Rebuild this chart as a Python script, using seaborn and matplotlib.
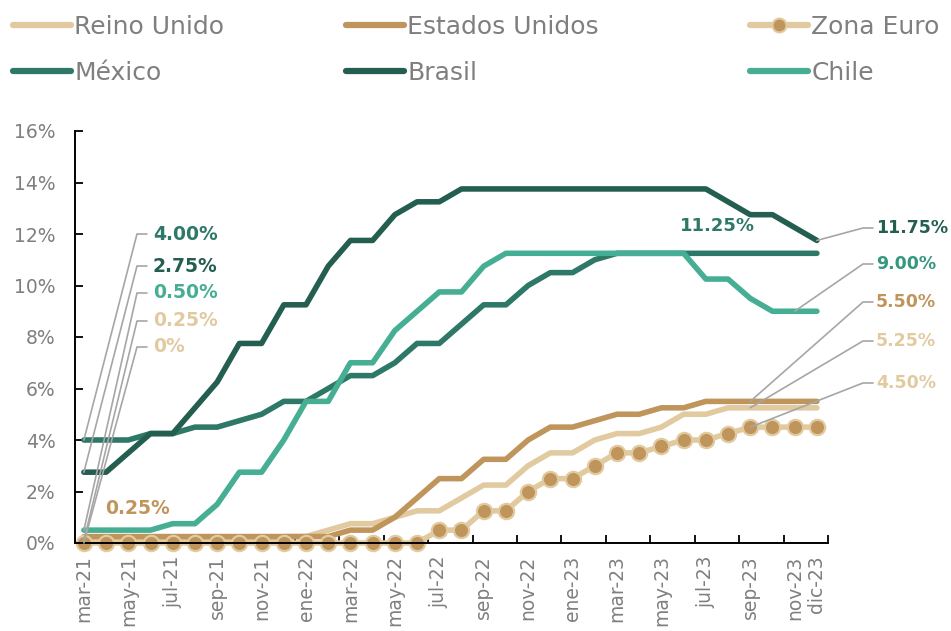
import numpy as np
import pandas as pd
import seaborn as sns
import matplotlib.pyplot as plt
from matplotlib.lines import Line2D

# meses mar-21 .. dic-23
meses = ["mar-21", "abr-21", "may-21", "jun-21", "jul-21", "ago-21", "sep-21", "oct-21",
         "nov-21", "dic-21", "ene-22", "feb-22", "mar-22", "abr-22", "may-22", "jun-22",
         "jul-22", "ago-22", "sep-22", "oct-22", "nov-22", "dic-22", "ene-23", "feb-23",
         "mar-23", "abr-23", "may-23", "jun-23", "jul-23", "ago-23", "sep-23", "oct-23",
         "nov-23", "dic-23"]

reino_unido = [0.10, 0.10, 0.10, 0.10, 0.10, 0.10, 0.10, 0.10, 0.10, 0.25, 0.25, 0.50,
               0.75, 0.75, 1.00, 1.25, 1.25, 1.75, 2.25, 2.25, 3.00, 3.50, 3.50, 4.00,
               4.25, 4.25, 4.50, 5.00, 5.00, 5.25, 5.25, 5.25, 5.25, 5.25]
estados_unidos = [0.25, 0.25, 0.25, 0.25, 0.25, 0.25, 0.25, 0.25, 0.25, 0.25, 0.25, 0.25,
                  0.50, 0.50, 1.00, 1.75, 2.50, 2.50, 3.25, 3.25, 4.00, 4.50, 4.50, 4.75,
                  5.00, 5.00, 5.25, 5.25, 5.50, 5.50, 5.50, 5.50, 5.50, 5.50]
zona_euro = [0, 0, 0, 0, 0, 0, 0, 0, 0, 0, 0, 0, 0, 0, 0, 0,
             0.50, 0.50, 1.25, 1.25, 2.00, 2.50, 2.50, 3.00, 3.50, 3.50, 3.75, 4.00,
             4.00, 4.25, 4.50, 4.50, 4.50, 4.50]
mexico = [4.00, 4.00, 4.00, 4.25, 4.25, 4.50, 4.50, 4.75, 5.00, 5.50, 5.50, 6.00,
          6.50, 6.50, 7.00, 7.75, 7.75, 8.50, 9.25, 9.25, 10.00, 10.50, 10.50, 11.00,
          11.25, 11.25, 11.25, 11.25, 11.25, 11.25, 11.25, 11.25, 11.25, 11.25]
brasil = [2.75, 2.75, 3.50, 4.25, 4.25, 5.25, 6.25, 7.75, 7.75, 9.25, 9.25, 10.75,
          11.75, 11.75, 12.75, 13.25, 13.25, 13.75, 13.75, 13.75, 13.75, 13.75, 13.75, 13.75,
          13.75, 13.75, 13.75, 13.75, 13.75, 13.25, 12.75, 12.75, 12.25, 11.75]
chile = [0.50, 0.50, 0.50, 0.50, 0.75, 0.75, 1.50, 2.75, 2.75, 4.00, 5.50, 5.50,
         7.00, 7.00, 8.25, 9.00, 9.75, 9.75, 10.75, 11.25, 11.25, 11.25, 11.25, 11.25,
         11.25, 11.25, 11.25, 11.25, 10.25, 10.25, 9.50, 9.00, 9.00, 9.00]

series = {"Reino Unido": reino_unido, "Estados Unidos": estados_unidos, "Zona Euro": zona_euro,
          "México": mexico, "Brasil": brasil, "Chile": chile}
colores = {"Reino Unido": "#E2CAA0", "Estados Unidos": "#BF955C", "Zona Euro": "#E2CAA0",
           "México": "#2E7867", "Brasil": "#245E51", "Chile": "#46AE93"}
CAFE = "#BF955C"
GRIS = "#7F7F7F"
GUIA = "#A6A6A6"

df = pd.concat([pd.DataFrame({"i": np.arange(len(meses)), "mes": meses, "pais": k, "tasa": v})
                for k, v in series.items()], ignore_index=True)

sns.set_style("ticks")
plt.rcParams["font.family"] = ["DejaVu Sans"]

W, H = 951, 631
fig = plt.figure(figsize=(W / 100, H / 100), dpi=100)
ax = fig.add_axes([75 / W, 1 - 543 / H, (828 - 75) / W, (543 - 131) / H])

for pais in series:
    d = df[df["pais"] == pais]
    kw = dict(lw=4, solid_capstyle="round", solid_joinstyle="round")
    if pais == "Zona Euro":
        kw.update(marker="o", markersize=11, markerfacecolor=CAFE,
                  markeredgecolor=colores[pais], markeredgewidth=1.6)
    sns.lineplot(data=d, x="i", y="tasa", color=colores[pais], ax=ax, legend=False,
                 clip_on=False, **kw)

ax.set_xlim(-0.4, 33.5)
ax.set_ylim(0, 16)
ax.set_xlabel("")
ax.set_ylabel("")
yt = np.arange(0, 17, 2)
ax.set_yticks(yt)
ax.set_yticklabels([f"{v}%" for v in yt])
pos = list(range(0, 33, 2)) + [33]
ax.set_xticks(pos)
ax.set_xticklabels([meses[p] for p in pos], rotation=90)
ax.set_xticks(np.arange(1.5, 34, 2), minor=True)
ax.tick_params(axis="y", direction="in", length=6, width=1.3, colors="black",
               labelcolor=GRIS, labelsize=13.5, pad=14)
ax.tick_params(axis="x", which="major", length=0, labelcolor=GRIS, labelsize=13.5, pad=9)
ax.tick_params(axis="x", which="minor", direction="in", length=6, width=1.3, colors="black")
for s in ["top", "right"]:
    ax.spines[s].set_visible(False)
for s in ["left", "bottom"]:
    ax.spines[s].set_linewidth(1.4)
    ax.spines[s].set_color("black")

fig.canvas.draw()
inv = fig.transFigure.inverted()


def guia(i, val, ex, ey, texto, color, tx=16, fs=13.5):
    # linea guia desde el punto hasta el codo (pixeles) y luego horizontal
    px, py = ax.transData.transform((i, val))
    p0 = inv.transform((px, py))
    p1 = (ex / W, 1 - ey / H)
    p2 = ((ex + 10) / W, 1 - ey / H)
    fig.add_artist(Line2D([p0[0], p1[0], p2[0]], [p0[1], p1[1], p2[1]],
                          transform=fig.transFigure, color=GUIA, lw=1.2))
    fig.text((ex + tx) / W, 1 - ey / H, texto, color=color, fontsize=fs,
             fontweight="bold", ha="left", va="center")


guia(0, mexico[0], 137, 234, "4.00%", colores["México"])
guia(0, brasil[0], 137, 266, "2.75%", colores["Brasil"])
guia(0, chile[0], 137, 293, "0.50%", colores["Chile"])
guia(0, reino_unido[0], 137, 321, "0.25%", colores["Reino Unido"])
guia(0, zona_euro[0], 137, 347, "0%", colores["Reino Unido"])

guia(33, brasil[33], 863, 228, "11.75%", colores["Brasil"], tx=13, fs=12.5)
guia(32, chile[32], 863, 264, "9.00%", "#35977E", tx=13, fs=12.5)
guia(30, estados_unidos[30], 863, 302, "5.50%", CAFE, tx=13, fs=12.5)
guia(30, reino_unido[30], 863, 341, "5.25%", colores["Reino Unido"], tx=13, fs=12.5)
guia(30, zona_euro[30], 863, 383, "4.50%", colores["Reino Unido"], tx=13, fs=12.5)

fig.text(137 / W, 1 - 509 / H, "0.25%", color=CAFE, fontsize=13.5, fontweight="bold",
         ha="center", va="center")
fig.text(717 / W, 1 - 226 / H, "11.25%", color=colores["México"], fontsize=13,
         fontweight="bold", ha="center", va="center")

# leyenda en tres columnas
columnas = [(["Reino Unido", "México"], 13), (["Estados Unidos", "Brasil"], 346),
            (["Zona Euro", "Chile"], 750)]
for nombres, x0 in columnas:
    hs = []
    for n in nombres:
        if n == "Zona Euro":
            hs.append(Line2D([], [], color=colores[n], lw=4.5, solid_capstyle="round",
                             marker="o", markersize=10, markerfacecolor=CAFE,
                             markeredgecolor=colores[n], markeredgewidth=1.5))
        else:
            hs.append(Line2D([], [], color=colores[n], lw=4.5, solid_capstyle="round"))
    fig.legend(hs, nombres, loc="upper left", bbox_to_anchor=(x0 / W, 1 - 15 / H),
               frameon=False, fontsize=18, labelcolor=GRIS, handlelength=2.3,
               handletextpad=0.15, borderpad=0, borderaxespad=0, labelspacing=0.87)

fig.savefig("out.png", dpi=100)
